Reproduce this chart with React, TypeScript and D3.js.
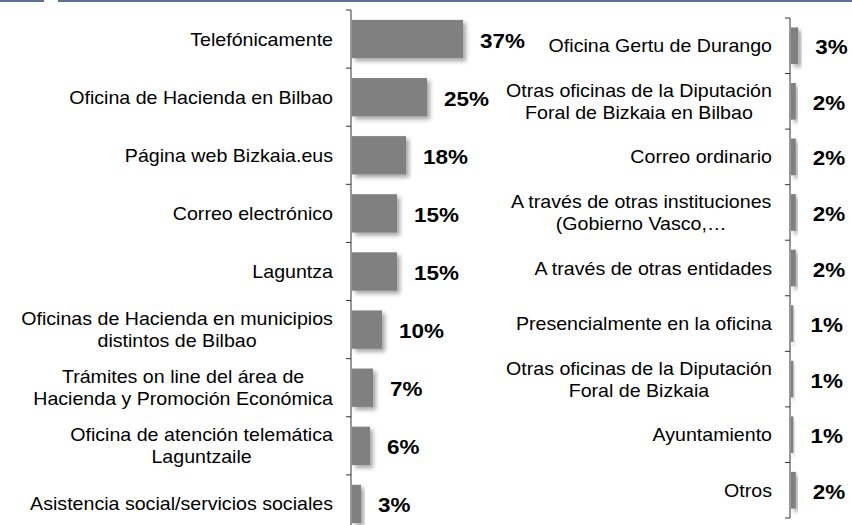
import * as d3 from "d3";
import { useMemo } from "react";

const leftCategories = [
  "Telefónicamente",
  "Oficina de Hacienda en Bilbao",
  "Página web Bizkaia.eus",
  "Correo electrónico",
  "Laguntza",
  "Oficinas de Hacienda en municipios\ndistintos de Bilbao",
  "Trámites on line del área de\nHacienda y Promoción Económica",
  "Oficina de atención telemática\nLaguntzaile",
  "Asistencia social/servicios sociales",
];
const leftValues = [37, 25, 18, 15, 15, 10, 7, 6, 3];

const rightCategories = [
  "Oficina Gertu de Durango",
  "Otras oficinas de la Diputación\nForal de Bizkaia en Bilbao",
  "Correo ordinario",
  "A través de otras instituciones\n(Gobierno Vasco,…",
  "A través de otras entidades",
  "Presencialmente en la oficina",
  "Otras oficinas de la Diputación\nForal de Bizkaia",
  "Ayuntamiento",
  "Otros",
];
const rightValues = [3, 2, 2, 2, 2, 1, 1, 1, 2];

const width = 852;
const height = 525;
const fontFamily = "'Liberation Sans', Arial, sans-serif";
const labelSize = 18;
const labelStretch = 1.09;
const valueSize = 21;
const valueStretch = 1.07;

let measureCtx: CanvasRenderingContext2D | null = null;
function measure(text: string, size: number, weight = "normal") {
  if (!measureCtx) measureCtx = document.createElement("canvas").getContext("2d");
  if (!measureCtx) return text.length * size * 0.5;
  measureCtx.font = `${weight} ${size}px ${fontFamily}`;
  return measureCtx.measureText(text).width;
}

type PanelProps = {
  categories: string[];
  values: number[];
  axisX: number;
  yTop: number;
  yBottom: number;
  barLength: number;
};

function Panel({ categories, values, axisX, yTop, yBottom, barLength }: PanelProps) {
  const y = useMemo(
    () => d3.scaleBand<string>().domain(categories).range([yTop, yBottom]).paddingInner(0.34).paddingOuter(0.17),
    [categories, yTop, yBottom]
  );
  const x = useMemo(
    () => d3.scaleLinear().domain([0, 100]).range([axisX + 1, axisX + 1 + barLength]),
    [axisX, barLength]
  );
  const step = y.step();
  const labelRight = axisX - 18;

  return (
    <g>
      {categories.map((cat, i) => {
        const v = values[i];
        const y0 = y(cat) ?? 0;
        const cy = y0 + y.bandwidth() / 2;
        const lines = cat.split("\n");
        const maxW = d3.max(lines, (l) => measure(l, labelSize)) ?? 0;
        const multi = lines.length > 1;
        const cx = multi ? labelRight - (maxW * labelStretch) / 2 : labelRight;
        return (
          <g key={cat}>
            <rect
              x={x(0)}
              y={y0}
              width={x(v) - x(0)}
              height={y.bandwidth()}
              fill="#808080"
              filter="url(#barShadow)"
            />
            {lines.map((line, j) => (
              <text
                key={j}
                transform={`translate(${cx},${cy - ((lines.length - 1) * 22) / 2 + j * 22 + 6.5}) scale(${labelStretch},1)`}
                textAnchor={multi ? "middle" : "end"}
                fontSize={labelSize}
                fill="#000"
              >
                {line}
              </text>
            ))}
            <text
              transform={`translate(${x(v) + 17},${cy + 8.5}) scale(${valueStretch},1)`}
              fontSize={valueSize}
              fontWeight="bold"
              fill="#000"
            >
              {`${v}%`}
            </text>
          </g>
        );
      })}
      <line x1={axisX} x2={axisX} y1={yTop} y2={yBottom} stroke="#333" strokeWidth={1} />
      {d3.range(categories.length + 1).map((k) => (
        <line
          key={k}
          x1={axisX - 5}
          x2={axisX}
          y1={yTop + k * step}
          y2={yTop + k * step}
          stroke="#333"
          strokeWidth={1}
        />
      ))}
    </g>
  );
}

export default function App() {
  return (
    <svg
      width={width}
      height={height}
      viewBox={`0 0 ${width} ${height}`}
      style={{ position: "absolute", left: 0, top: 0, background: "#fff" }}
      fontFamily={fontFamily}
    >
      <defs>
        <filter id="barShadow" x="-20%" y="-20%" width="160%" height="160%">
          <feDropShadow dx={3} dy={3} stdDeviation={2.2} floodColor="#000" floodOpacity={0.35} />
        </filter>
      </defs>
      <rect x={0} y={0} width={width} height={height} fill="#fff" />
      <rect x={0} y={0} width={44} height={2} fill="#5f6e91" />
      <rect x={58} y={0} width={width - 58} height={2} fill="#5f6e91" />
      <Panel categories={leftCategories} values={leftValues} axisX={351} yTop={10} yBottom={533} barLength={300} />
      <Panel categories={rightCategories} values={rightValues} axisX={790} yTop={18} yBottom={518} barLength={240} />
    </svg>
  );
}
